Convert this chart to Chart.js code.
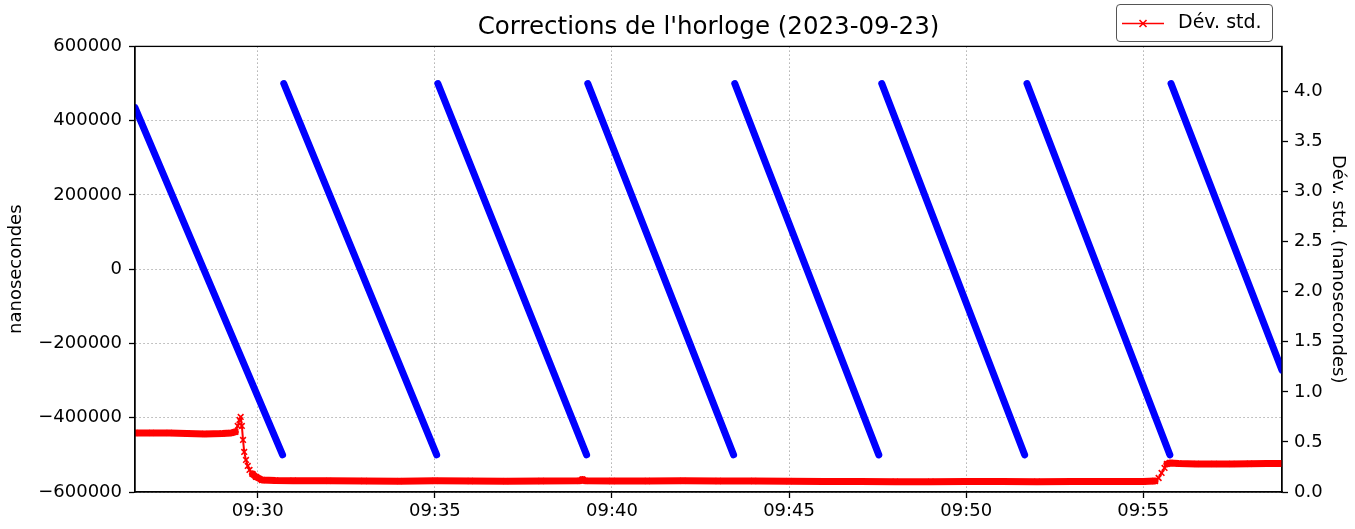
<!DOCTYPE html>
<html>
<head>
<meta charset="utf-8">
<script src="https://cdn.jsdelivr.net/npm/chart.js@4/dist/chart.umd.min.js"></script>
<style>
  html, body { margin: 0; padding: 0; background: #fff; }
  #wrap { position: relative; width: 1355px; height: 529px; }
  #legend {
    position: absolute; left: 1116px; top: 4px; width: 155px; height: 36px;
    border: 1px solid #555; border-radius: 4px; background: rgba(255,255,255,0.85);
    font-family: 'DejaVu Sans', sans-serif; font-size: 19px; color: #000;
  }
  #legend svg { position: absolute; left: 4px; top: 10px; }
  #legend span { position: absolute; left: 61px; top: 5px; white-space: nowrap; }
</style>
</head>
<body>
<div id="wrap">
  <canvas id="c" width="1355" height="529"></canvas>
  <div id="legend">
    <svg width="44" height="18" viewBox="0 0 44 18">
      <line x1="1" y1="8.5" x2="43" y2="8.5" stroke="#ff0000" stroke-width="1.6"/>
      <line x1="18.5" y1="5" x2="25.5" y2="12" stroke="#ff0000" stroke-width="1.6"/>
      <line x1="25.5" y1="5" x2="18.5" y2="12" stroke="#ff0000" stroke-width="1.6"/>
    </svg>
    <span>Dév. std.</span>
  </div>
</div>
<script>
// ---- Data ----
const titleText = "Corrections de l'horloge (2023-09-23)";
const xMinTime = '09:26:32';
const xMaxTime = '09:58:55';
const xTickLabels = ['09:30', '09:35', '09:40', '09:45', '09:50', '09:55'];
const leftTickValues = [-600000, -400000, -200000, 0, 200000, 400000, 600000];
const rightTickValues = [0.0, 0.5, 1.0, 1.5, 2.0, 2.5, 3.0, 3.5, 4.0];

// Clock correction (nanoseconds), sawtooth segments
const segStartTime  = ['09:26:32', '09:30:44', '09:35:05', '09:39:19', '09:43:28', '09:47:37', '09:51:43', '09:55:47'];
const segStartValue = [435000, 500000, 500000, 500000, 500000, 500000, 500000, 500000];
const segEndTime    = ['09:30:42', '09:35:03', '09:39:17', '09:43:26', '09:47:32', '09:51:39', '09:55:45', '09:58:55'];
const segEndValue   = [-500000, -500000, -500000, -500000, -500000, -500000, -500000, -272000];

// Standard deviation (nanoseconds)
const stdTimes = ['09:26:32','09:27:00','09:27:30','09:28:00','09:28:30','09:29:00','09:29:15','09:29:22','09:29:26','09:29:29',
  '09:29:31','09:29:33','09:29:35','09:29:37','09:29:40','09:29:43','09:29:46','09:29:51','09:29:57','09:30:07',
  '09:30:30','09:31:00','09:32:00','09:33:00','09:34:00','09:35:00','09:36:00','09:37:00','09:38:00','09:39:05',
  '09:39:10','09:39:15','09:40:00','09:41:00','09:42:00','09:43:00','09:44:00','09:45:00','09:46:00','09:47:00',
  '09:48:00','09:49:00','09:50:00','09:51:00','09:52:00','09:53:00','09:54:00','09:55:00','09:55:20','09:55:26',
  '09:55:31','09:55:36','09:55:40','09:55:45','09:56:00','09:56:30','09:57:00','09:57:30','09:58:00','09:58:30','09:58:55'];
const stdValues = [0.59,0.59,0.59,0.585,0.58,0.585,0.59,0.60,0.66,0.72,
  0.75,0.66,0.52,0.40,0.32,0.26,0.22,0.18,0.15,0.12,
  0.115,0.113,0.112,0.11,0.108,0.112,0.11,0.108,0.11,0.112,
  0.125,0.112,0.11,0.11,0.112,0.11,0.11,0.108,0.105,0.104,
  0.103,0.103,0.104,0.104,0.103,0.104,0.105,0.105,0.11,0.14,
  0.19,0.24,0.28,0.29,0.285,0.28,0.28,0.28,0.282,0.285,0.285];

// ---- helpers ----
function toSec(s) {
  const p = s.split(':').map(Number);
  return p[0] * 3600 + p[1] * 60 + (p[2] || 0);
}
function fmtTime(v) {
  const h = Math.floor(v / 3600), m = Math.round((v - h * 3600) / 60);
  return String(h).padStart(2, '0') + ':' + String(m).padStart(2, '0');
}

const blueData = [];
segStartTime.forEach((t, i) => {
  blueData.push({ x: toSec(t), y: segStartValue[i] });
  blueData.push({ x: toSec(segEndTime[i]), y: segEndValue[i] });
  blueData.push({ x: toSec(segEndTime[i]) + 1, y: null });
});
const redData = stdTimes.map((t, i) => ({ x: toSec(t), y: stdValues[i] }));

Chart.defaults.font.family = "'DejaVu Sans', sans-serif";
Chart.defaults.color = '#000';

const tickFont = { size: 18 };

const boxPlugin = {
  id: 'box',
  afterDatasetsDraw(chart) {
    const { ctx, chartArea: a } = chart;
    ctx.save();
    ctx.strokeStyle = '#000';
    ctx.lineWidth = 1.3;
    ctx.setLineDash([]);
    ctx.strokeRect(a.left, a.top, a.right - a.left, a.bottom - a.top);
    ctx.restore();
  }
};

new Chart(document.getElementById('c'), {
  type: 'line',
  data: {
    datasets: [
      {
        label: 'Dév. std.',
        data: redData,
        yAxisID: 'y1',
        borderColor: '#ff0000',
        backgroundColor: '#ff0000',
        borderWidth: 7,
        borderCapStyle: 'round',
        borderJoinStyle: 'round',
        segment: {
          borderWidth: c => Math.abs(c.p1.parsed.y - c.p0.parsed.y) > 0.03 ? 2 : 7
        },
        pointStyle: 'crossRot',
        pointRadius: 4,
        pointBorderWidth: 1.6,
        pointBorderColor: '#ff0000',
        tension: 0,
        order: 0
      },
      {
        label: 'Corrections',
        data: blueData,
        yAxisID: 'y',
        borderColor: '#0000ff',
        backgroundColor: '#0000ff',
        borderWidth: 7,
        borderCapStyle: 'round',
        pointRadius: 0,
        spanGaps: false,
        tension: 0,
        order: 1
      }
    ]
  },
  options: {
    responsive: false,
    animation: false,
    events: [],
    layout: { padding: 0 },
    plugins: {
      legend: { display: false },
      tooltip: { enabled: false },
      title: {
        display: true,
        text: titleText,
        fullSize: false,
        font: { size: 24.5, weight: 'normal' },
        color: '#000',
        padding: { top: 13, bottom: 4 }
      }
    },
    scales: {
      x: {
        type: 'linear',
        min: toSec(xMinTime),
        max: toSec(xMaxTime),
        afterBuildTicks: s => { s.ticks = xTickLabels.map(l => ({ value: toSec(l) })); },
        afterFit: s => { s.height = 37; },
        ticks: { callback: v => fmtTime(v), font: tickFont, color: '#000', padding: 3, maxRotation: 0, autoSkip: false },
        grid: { color: '#b0b0b0', lineWidth: 1, tickColor: '#000', tickLength: 6, tickWidth: 1.3, tickBorderDash: [] },
        border: { display: true, color: '#000', width: 1.3, dash: [1.5, 2.5] }
      },
      y: {
        position: 'left',
        min: -600000,
        max: 600000,
        afterBuildTicks: s => { s.ticks = leftTickValues.map(v => ({ value: v })); },
        afterFit: s => { s.width = 135; },
        ticks: { callback: v => String(v).replace('-', '\u2212'), font: tickFont, color: '#000', padding: 7 },
        grid: { color: '#b0b0b0', lineWidth: 1, tickColor: '#000', tickLength: 6, tickWidth: 1.3, tickBorderDash: [] },
        border: { display: true, color: '#000', width: 1.3, dash: [1.5, 2.5] },
        title: { display: true, text: 'nanosecondes', font: { size: 18 }, color: '#000', padding: { top: 6, bottom: 0 } }
      },
      y1: {
        position: 'right',
        min: 0,
        max: 4.45,
        afterBuildTicks: s => { s.ticks = rightTickValues.map(v => ({ value: v })); },
        afterFit: s => { s.width = 73; },
        ticks: { callback: v => Number(v).toFixed(1), font: tickFont, color: '#000', padding: 6 },
        grid: { drawOnChartArea: false, tickColor: '#000', tickLength: 6, tickWidth: 1.3 },
        border: { display: true, color: '#000', width: 1.3 },
        title: { display: true, text: 'Dév. std. (nanosecondes)', font: { size: 18 }, color: '#000', padding: { top: 7, bottom: 0 } }
      }
    }
  },
  plugins: [boxPlugin]
});
</script>
</body>
</html>
